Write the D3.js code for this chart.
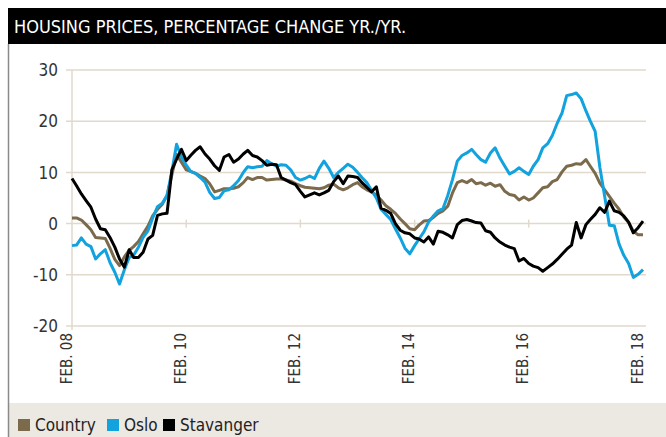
<!DOCTYPE html>
<html>
<head>
<meta charset="utf-8">
<script src="https://cdn.jsdelivr.net/npm/d3@7"></script>
<style>
  html, body { margin: 0; padding: 0; background: #fff; }
  svg { display: block; }
</style>
</head>
<body>
<svg id="chart" width="666" height="437"></svg>
<script>
// Year-on-year housing price change, monthly, Feb 2008 – Feb 2018
const startYear = 2008, startMonth = 1; // February

const countryValues = [
  1.1, 1.1, 0.7, -0.2, -1.2, -2.7, -2.8, -2.9, -4.8, -7.0, -8.2, -6.5, -5.2, -4.5, -3.5, -2.0, -0.5, 1.5, 2.8, 3.8,
  5.5, 9.5, 13.5, 12.0, 10.5, 10.2, 9.8, 9.3, 8.8, 7.8, 6.2, 6.5, 6.8, 6.8, 6.9, 7.2, 8.0, 9.0, 8.6, 9.0,
  9.0, 8.5, 8.6, 8.7, 8.7, 8.5, 8.3, 7.8, 7.4, 7.1, 7.0, 6.9, 6.8, 7.0, 7.5, 7.7, 7.0, 6.6, 7.0, 7.6,
  8.0, 7.2, 6.6, 6.2, 5.6, 4.6, 3.5, 2.8, 2.0, 0.9, 0.0, -1.0, -1.2, -0.3, 0.5, 0.6, 1.2, 2.0, 2.5, 3.4,
  6.0, 8.0, 8.4, 8.0, 8.6, 7.8, 8.0, 7.5, 7.9, 7.3, 7.6, 6.3, 5.7, 5.5, 4.6, 5.2, 4.6, 5.0, 6.0, 7.0,
  7.2, 8.2, 8.6, 10.1, 11.2, 11.4, 11.7, 11.6, 12.5, 11.2, 9.8, 7.9, 6.6, 5.3, 4.0, 2.8, 1.3, 0.2, -1.5, -2.2,
  -2.2
];

const osloValues = [
  -4.3, -4.2, -2.8, -4.0, -4.5, -6.9, -5.9, -5.1, -7.6, -9.5, -11.8, -9.0, -6.6, -6.2, -4.6, -2.7, -1.4, 1.1, 3.3, 4.0,
  5.5, 10.2, 15.5, 13.0, 11.4, 10.2, 9.8, 9.0, 8.1, 6.1, 4.9, 5.1, 6.4, 6.6, 7.4, 8.4, 10.0, 11.1, 10.9, 11.1,
  11.2, 12.3, 11.7, 11.2, 11.5, 11.4, 10.5, 9.0, 8.5, 8.8, 9.3, 8.8, 10.8, 12.2, 10.8, 9.0, 10.0, 10.8, 11.6, 11.0,
  10.0, 9.0, 8.0, 6.5, 5.0, 2.8, 1.8, 0.8, -1.0, -2.8, -4.8, -5.9, -4.3, -3.0, -1.6, 0.3, 1.5, 2.5, 2.9, 5.5,
  8.6, 12.2, 13.3, 13.8, 14.5, 13.5, 12.5, 12.0, 13.8, 14.8, 12.8, 11.2, 9.7, 10.2, 10.9, 10.2, 9.6, 11.2, 12.5, 14.8,
  15.6, 17.2, 19.6, 21.6, 25.0, 25.2, 25.5, 24.4, 22.0, 20.0, 18.0, 11.0, 5.3, -0.3, -0.4, -4.0, -6.2, -7.8, -10.5, -9.9,
  -9.0
];

const stavangerValues = [
  8.8, 7.4, 5.8, 4.5, 3.2, 0.9, -1.0, -1.2, -2.7, -4.6, -6.9, -8.5, -5.1, -6.6, -6.6, -5.6, -3.0, -2.3, 1.6, 1.9,
  2.0, 10.5, 12.6, 14.5, 12.3, 13.3, 14.3, 15.0, 13.6, 12.6, 11.3, 10.4, 13.0, 13.5, 12.0, 12.6, 13.6, 14.3, 13.3, 13.0,
  12.3, 11.4, 11.6, 11.5, 9.0, 8.5, 8.0, 7.6, 6.3, 5.2, 5.6, 6.0, 5.6, 6.0, 6.5, 8.2, 9.3, 7.8, 9.3, 9.2,
  9.0, 8.0, 7.1, 6.2, 7.2, 3.0, 2.6, 2.0, 0.0, -1.3, -1.8, -2.0, -2.8, -3.0, -3.6, -2.6, -4.0, -1.5, -1.7, -2.2,
  -2.8, -0.2, 0.6, 0.8, 0.5, 0.2, 0.1, -1.4, -1.7, -2.8, -3.6, -4.2, -4.6, -4.9, -7.3, -6.8, -7.8, -8.3, -8.6, -9.3,
  -8.6, -7.9, -7.0, -6.0, -5.0, -4.2, 0.2, -2.8, -0.2, 0.8, 1.8, 3.1, 2.2, 4.4, 2.5, 2.2, 1.5, 0.3, -1.8, -0.8,
  0.5
];

const seriesNames = ["Country", "Oslo", "Stavanger"];
const seriesColors = ["#7b6a4c", "#12a2de", "#000000"];
const yTicks = [-20, -10, 0, 10, 20, 30];
const xTickYears = [2008, 2010, 2012, 2014, 2016, 2018];
const xTickLabels = ["FEB. 08", "FEB. 10", "FEB. 12", "FEB. 14", "FEB. 16", "FEB. 18"];
const titleText = "HOUSING PRICES, PERCENTAGE CHANGE YR./YR.";

const dates = countryValues.map((_, i) => new Date(startYear, startMonth + i, 1));
const seriesValues = [countryValues, osloValues, stavangerValues];

const svg = d3.select("#chart");
const W = 666, H = 437;
const font = "'Liberation Sans Narrow', 'Arial Narrow', 'DejaVu Sans Condensed', sans-serif";
const gridColor = "#e0d9cc";

const x = d3.scaleTime()
  .domain([new Date(2008, 1, 1), new Date(2018, 1, 1)])
  .range([72, 643]);
const y = d3.scaleLinear().domain([-20, 30]).range([326, 70]);

// Title band
svg.append("rect").attr("x", 8).attr("y", 8).attr("width", W - 8).attr("height", 36).attr("fill", "#000");
svg.append("text")
  .attr("x", 14).attr("y", 33)
  .attr("fill", "#fff")
  .attr("font-family", font)
  .attr("font-size", 18)
  .text(titleText);

// Legend band
svg.append("rect").attr("x", 8).attr("y", 403).attr("width", W - 8).attr("height", H - 403).attr("fill", "#ece8e2");

// Left frame rule
svg.append("line").attr("x1", 8.5).attr("x2", 8.5).attr("y1", 44).attr("y2", H)
  .attr("stroke", "#8a8a8a").attr("stroke-width", 1.5);

// Horizontal grid
svg.append("g").selectAll("line").data(yTicks).join("line")
  .attr("x1", 66).attr("x2", 646)
  .attr("y1", d => y(d)).attr("y2", d => y(d))
  .attr("stroke", gridColor).attr("stroke-width", 1.5);

// Vertical axis rule
svg.append("line").attr("x1", x(new Date(2008, 1, 1))).attr("x2", x(new Date(2008, 1, 1)))
  .attr("y1", y(30)).attr("y2", y(-20) + 4)
  .attr("stroke", gridColor).attr("stroke-width", 1.5);

// Year marks on the zero line
const tickDates = xTickYears.map(yr => new Date(yr, 1, 1));
svg.append("g").selectAll("line").data(tickDates.slice(1, -1)).join("line")
  .attr("x1", d => x(d)).attr("x2", d => x(d))
  .attr("y1", y(0) - 4).attr("y2", y(0) + 4)
  .attr("stroke", gridColor).attr("stroke-width", 1.5);

// Y axis labels (plain hyphen for negatives)
const yAxis = d3.axisLeft(y).tickValues(yTicks).tickSize(0).tickPadding(0).tickFormat(d => String(d));
const gy = svg.append("g").attr("transform", "translate(58,0)").call(yAxis);
gy.select(".domain").remove();
gy.selectAll("text")
  .attr("font-family", font).attr("font-size", 17).attr("fill", "#333").attr("dy", "0.34em");

// X axis labels (rotated)
const xAxis = d3.axisBottom(x).tickValues(tickDates).tickSize(0)
  .tickFormat((d, i) => xTickLabels[i]);
const gx = svg.append("g").attr("transform", `translate(0,${y(-20)})`).call(xAxis);
gx.select(".domain").remove();
gx.selectAll("text")
  .attr("font-family", font).attr("font-size", 15).attr("fill", "#333")
  .attr("text-anchor", "end")
  .attr("transform", "rotate(-90)")
  .attr("x", -7).attr("y", -1).attr("dy", 0);

// Series lines
const line = d3.line()
  .x((d, i) => x(dates[i]))
  .y(d => y(d));

svg.append("g").selectAll("path").data(seriesValues).join("path")
  .attr("d", d => line(d))
  .attr("fill", "none")
  .attr("stroke", (d, i) => seriesColors[i])
  .attr("stroke-width", 3)
  .attr("stroke-linejoin", "round");

// Legend
const legendX = [18, 107, 163];
const lg = svg.append("g").selectAll("g").data(seriesNames).join("g")
  .attr("transform", (d, i) => `translate(${legendX[i]},419)`);
lg.append("rect").attr("width", 12).attr("height", 12).attr("fill", (d, i) => seriesColors[i]);
lg.append("text").attr("x", 17).attr("y", 12)
  .attr("font-family", font).attr("font-size", 17).attr("fill", "#222")
  .text(d => d);
</script>
</body>
</html>
